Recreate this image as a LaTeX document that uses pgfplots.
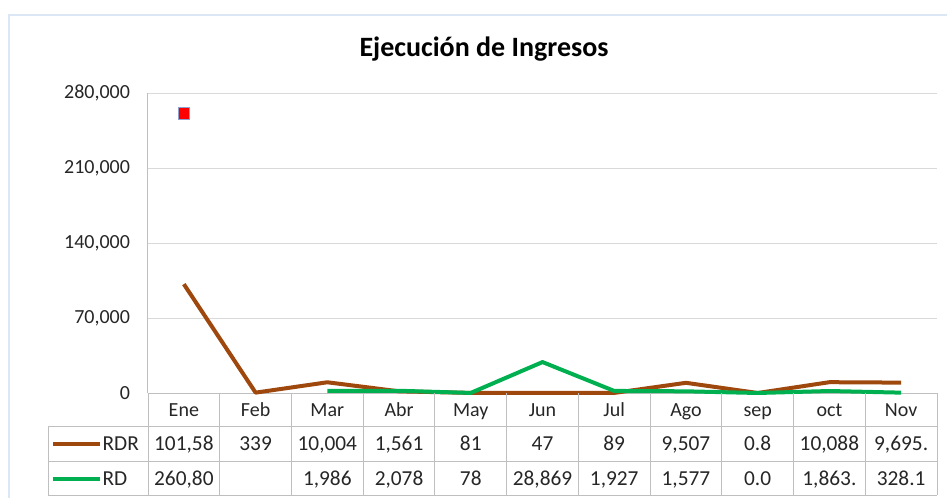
\documentclass[border=0pt]{standalone}
\usepackage{fontspec}
\setmainfont{Carlito}
\usepackage{pgfplots}
\usepackage{pgfplotstable}
\pgfplotsset{compat=1.18}

\definecolor{rdr}{HTML}{9E480E}
\definecolor{rd}{HTML}{00B050}
\definecolor{gridc}{HTML}{D9D9D9}
\definecolor{tablec}{HTML}{BFBFBF}
\definecolor{framec}{HTML}{DCE7F5}
\definecolor{markc}{HTML}{8EA0D0}

% monthly values (Ene..Nov -> 0..10)
\pgfplotstableread{
x y
0 101580
1 339
2 10004
3 1561
4 81
5 47
6 89
7 9507
8 0.8
9 10088
10 9695
}\rdrdata

\pgfplotstableread{
x y
0 260800
1 nan
2 1986
3 2078
4 78
5 28869
6 1927
7 1577
8 0.0
9 1863
10 328.1
}\rddata

\begin{document}
\begin{tikzpicture}[x=0.75pt,y=0.75pt,font=\fontsize{15}{18}\selectfont,
    cell/.style={text=black!85, text height=10.5pt, text depth=1.1pt, inner sep=1pt},
    num/.style={cell, font=\fontsize{16}{19}\selectfont, text height=11.2pt}]
\clip (0,0) rectangle (947,497);
\draw[framec, line width=1.5pt] (9,-10) -- (9,482) -- (960,482);
\node[font=\fontsize{21}{25}\selectfont\bfseries] at (484,448) {Ejecución de Ingresos};

\begin{axis}[
    at={(111pt,78pt)}, anchor=south west,
    scale only axis,
    width=591.75pt, height=225pt,
    xmin=-0.5, xmax=10.5,
    ymin=0, ymax=280000,
    clip=false,
    axis x line*=bottom, axis y line*=left,
    axis line style={tablec, line width=0.75pt, -},
    major tick length=0,
    xtick={0,...,10},
    xticklabels={Ene,Feb,Mar,Abr,May,Jun,Jul,Ago,sep,oct,Nov},
    xticklabel style={anchor=center, yshift=-12.75pt, text height=10.5pt, text depth=1.1pt, inner sep=1pt},
    ytick={0,70000,140000,210000,280000},
    scaled y ticks=false,
    yticklabel style={xshift=-10pt, /pgf/number format/.cd, fixed, 1000 sep={,}, assume math mode=true},
    tick label style={font=\fontsize{15}{18}\selectfont, text=black!85},
    ymajorgrids=true,
    grid style={gridc, line width=0.75pt},
    unbounded coords=jump,
]
\addplot[rdr, line width=3pt, no markers, line join=round] table {\rdrdata};
\addplot[rd, line width=3pt, no markers, line join=round] table {\rddata};
\addplot[only marks, mark=square*, mark size=4.3pt,
    mark options={fill=red, draw=markc, line width=0.6pt}] coordinates {(0,260800)};
\end{axis}

% data table below the plot
\begin{scope}[tablec, line width=0.75pt]
  \draw (48,71) -- (937,71);
  \draw (48,36) -- (937,36);
  \draw (48,2) -- (937,2);
  \draw (48,71) -- (48,2);
  \foreach \k in {0,...,11} \draw (148+71.727*\k,104) -- (148+71.727*\k,2);
\end{scope}

\draw[rdr, line width=3pt] (53,53) -- (100,53);
\node[num, anchor=west] at (101,53) {RDR};
\draw[rd, line width=3pt] (53,18) -- (100,18);
\node[num, anchor=west] at (101,18) {RD};

\foreach \v [count=\i from 0] in {{101,58},{339},{10,004},{1,561},{81},{47},{89},{9,507},{0.8},{10,088},{9,695.}}
  \node[num] at (148+71.727*\i+35.86,53) {\v};
\foreach \v [count=\i from 0] in {{260,80},{},{1,986},{2,078},{78},{28,869},{1,927},{1,577},{0.0},{1,863.},{328.1}}
  \node[num] at (148+71.727*\i+35.86,18) {\v};
\end{tikzpicture}
\end{document}
